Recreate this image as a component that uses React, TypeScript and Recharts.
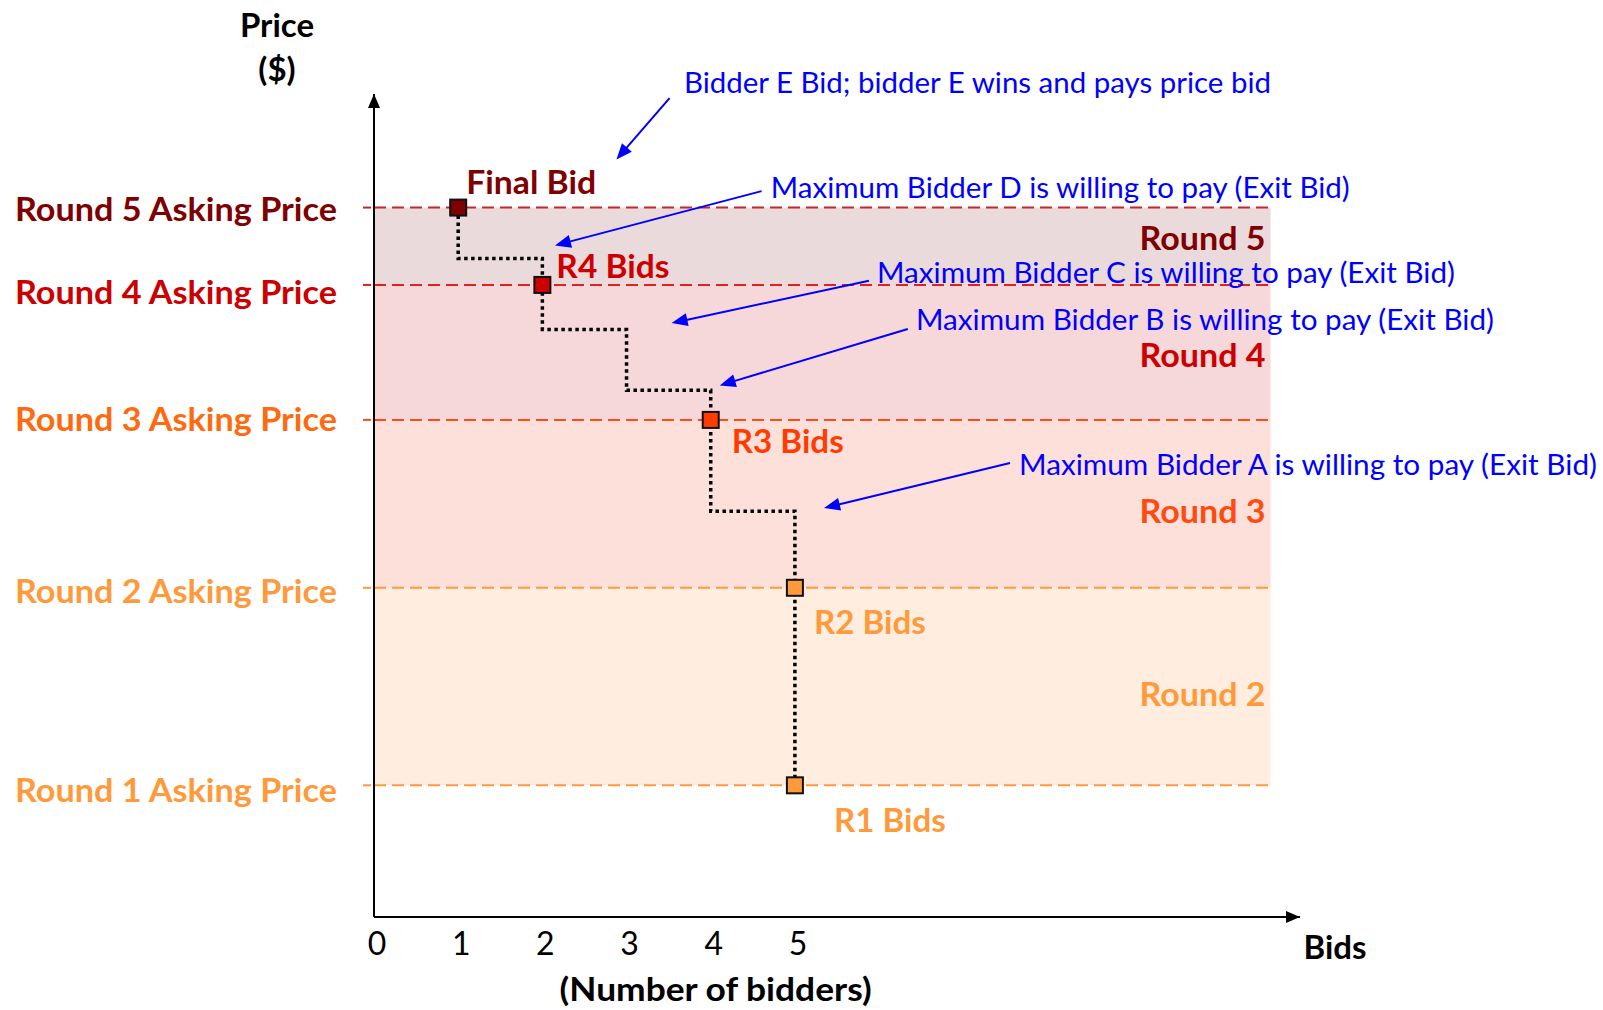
import React from "react";
import {
  ComposedChart,
  Line,
  Scatter,
  XAxis,
  YAxis,
  ReferenceLine,
  ReferenceArea,
} from "recharts";

// ---------------- DATA ----------------
const ROUND_NAMES = ["Round 1", "Round 2", "Round 3", "Round 4", "Round 5"];
const ASKING_PRICES = [16, 40, 60.4, 76.8, 86.2];
const BIDDERS_AT_ROUND = [5, 5, 4, 2, 1];
const BID_LABELS = ["R1 Bids", "R2 Bids", "R3 Bids", "R4 Bids", "Final Bid"];
const EXIT_BIDDERS = ["A", "B", "C", "D"];
const EXIT_PRICES = [49.3, 64, 71.4, 80];
const X_TICKS = [0, 1, 2, 3, 4, 5];
const NOTE_TEXTS = [
  "Bidder E Bid; bidder E wins and pays price bid",
  "Maximum Bidder D is willing to pay (Exit Bid)",
  "Maximum Bidder C is willing to pay (Exit Bid)",
  "Maximum Bidder B is willing to pay (Exit Bid)",
  "Maximum Bidder A is willing to pay (Exit Bid)",
];
// arrow tail / head in data units (bidders, price)
const NOTE_FROM = [
  [3.511, 99.5],
  [4.604, 88.2],
  [5.88, 77.3],
  [6.341, 71.45],
  [7.555, 55.16],
];
const NOTE_TO = [
  [2.88, 92.04],
  [2.15, 81.6],
  [3.535, 72.17],
  [4.107, 64.59],
  [5.346, 49.7],
];

// ---------------- DERIVED ----------------
type Ev = { price: number; kind: "ask" | "exit"; i: number };
const EVENTS: Ev[] = [
  ...ASKING_PRICES.map((p, i) => ({ price: p, kind: "ask" as const, i })),
  ...EXIT_PRICES.map((p, i) => ({ price: p, kind: "exit" as const, i })),
].sort((a, b) => a.price - b.price);

const STEP: { bidders: number; price: number }[] = [];
{
  let count = BIDDERS_AT_ROUND[0];
  for (const e of EVENTS) {
    if (e.kind === "ask") {
      count = BIDDERS_AT_ROUND[e.i];
      STEP.push({ bidders: count, price: e.price });
    } else {
      STEP.push({ bidders: count, price: e.price });
      count -= 1;
      STEP.push({ bidders: count, price: e.price });
    }
  }
}
const MARKERS = ASKING_PRICES.map((p, i) => ({
  bidders: BIDDERS_AT_ROUND[i],
  price: p,
  round: i,
}));

// ---------------- STYLE ----------------
const FONT = "Lato, 'Open Sans', sans-serif";
const X_MAX = 11;
const Y_MAX = 100;
const BAND_RIGHT = 10.65;
const BLUE = "#0000FF";
const ROUND_TEXT_COLORS = ["#FF9A3C", "#FF9A3C", "#FF6A10", "#CC0000", "#7F0000"];
const ROUND_LINE_COLORS = ["#FF9A3C", "#FF9A3C", "#FF4A1A", "#DD2222", "#C0282D"];
const ASK_LABEL_DY = [4, 2, -2, 6, 0];
const BAND_FILLS = ["", "#FFEEDF", "#FDE0DA", "#F6D8DA", "#EBDADB"];
const BAND_TEXT_COLORS = ["", "#FF9A3C", "#FF4A10", "#CC0000", "#7F0000"];
const BAND_LABEL_DY = [0, 6.5, 6.5, 2, -9];
const MARKER_FILLS = ["#FF9A3C", "#FF9A3C", "#FF3C00", "#CC0000", "#7F0000"];
const BID_LABEL_COLORS = ["#FF9A3C", "#FF9A3C", "#FF3C00", "#CC0000", "#7F0000"];
const BID_LABEL_OFFSETS = [
  [39, 34],
  [19, 33],
  [21, 20],
  [14, -20],
  [8, -27],
];
const BID_LABEL_WIDTHS = [112, 112, 112, 113, 130];
const NOTE_TEXT_OFFSETS = [
  [14.4, -16.2],
  [9.2, -5],
  [8, -9],
  [8.2, -10],
  [9, 0],
];
const NOTE_WIDTHS = [587, 579, 578, 578, 578];
const BOLD = 33;
const REG = 29;

// ---------------- PARTS ----------------
const YTick = (props: any) => {
  const { x, y, payload } = props;
  const i = ASKING_PRICES.indexOf(payload.value);
  if (i < 0) return null;
  return (
    <g>
      <line x1={x - 11} x2={x - 3} y1={y} y2={y} stroke={ROUND_LINE_COLORS[i]} strokeWidth={2} />
      <text
        x={x - 37}
        y={y + ASK_LABEL_DY[i]}
        textAnchor="end"
        dominantBaseline="central"
        fontFamily={FONT}
        fontWeight={700}
        fontSize={BOLD}
        fill={ROUND_TEXT_COLORS[i]}
        textLength={322}
        lengthAdjust="spacingAndGlyphs"
      >
        {`${ROUND_NAMES[i]} Asking Price`}
      </text>
    </g>
  );
};

const XTick = (props: any) => {
  const { x, y, payload } = props;
  return (
    <text
      x={x + 3}
      y={y + 25.5}
      textAnchor="middle"
      dominantBaseline="central"
      fontFamily={FONT}
      fontSize={32}
      fill="#000"
    >
      {payload.value}
    </text>
  );
};

const YLabel = (props: any) => {
  const vb = props.viewBox || { x: 0, y: 94, width: 374, height: 823 };
  const cx = vb.x + vb.width - 97;
  return (
    <g>
      <text x={cx} y={vb.y - 70.5} textAnchor="middle" dominantBaseline="central" fontFamily={FONT} fontWeight={700} fontSize={BOLD} fill="#000">
        Price
      </text>
      <text x={cx} y={vb.y - 26.5} textAnchor="middle" dominantBaseline="central" fontFamily={FONT} fontWeight={700} fontSize={BOLD} fill="#000">
        ($)
      </text>
    </g>
  );
};

const XLabel = (props: any) => {
  const vb = props.viewBox || { x: 374, y: 917, width: 926, height: 93 };
  return (
    <g>
      <text
        x={vb.x + 341.6}
        y={vb.y + 71}
        textAnchor="middle"
        dominantBaseline="central"
        fontFamily={FONT}
        fontWeight={700}
        fontSize={BOLD}
        fill="#000"
        textLength={312}
        lengthAdjust="spacingAndGlyphs"
      >
        (Number of bidders)
      </text>
      <text
        x={vb.x + vb.width + 3.5}
        y={vb.y + 29}
        textAnchor="start"
        dominantBaseline="central"
        fontFamily={FONT}
        fontWeight={700}
        fontSize={BOLD}
        fill="#000"
        textLength={63}
        lengthAdjust="spacingAndGlyphs"
      >
        Bids
      </text>
    </g>
  );
};

const arrowPath = (x1: number, y1: number, x2: number, y2: number, color: string, hl: number, hw: number, sw: number) => {
  const dx = x2 - x1;
  const dy = y2 - y1;
  const len = Math.hypot(dx, dy) || 1;
  const ux = dx / len;
  const uy = dy / len;
  const bx = x2 - ux * hl;
  const by = y2 - uy * hl;
  return (
    <g>
      <line x1={x1} y1={y1} x2={bx + ux * 1} y2={by + uy * 1} stroke={color} strokeWidth={sw} />
      <polygon
        points={`${x2},${y2} ${bx - uy * hw},${by + ux * hw} ${bx + uy * hw},${by - ux * hw}`}
        fill={color}
      />
    </g>
  );
};

const makeNoteShape = (k: number) => (props: any) => {
  const { x1, y1, x2, y2 } = props;
  return (
    <g>
      {arrowPath(x1, y1, x2, y2, BLUE, 16, 6.5, 2)}
      <text
        x={x1 + NOTE_TEXT_OFFSETS[k][0]}
        y={y1 + NOTE_TEXT_OFFSETS[k][1]}
        textAnchor="start"
        dominantBaseline="central"
        fontFamily={FONT}
        fontSize={REG}
        fill={BLUE}
        textLength={NOTE_WIDTHS[k]}
        lengthAdjust="spacingAndGlyphs"
      >
        {NOTE_TEXTS[k]}
      </text>
    </g>
  );
};

const axisArrowShape = (props: any) => {
  const { x1, y1, x2, y2 } = props;
  return arrowPath(x1, y1, x2, y2, "#000", 14, 6, 2);
};

const MarkerShape = (props: any) => {
  const { cx, cy, payload } = props;
  const r = payload.round;
  const s = 16;
  return (
    <g>
      <rect x={cx - s / 2} y={cy - s / 2} width={s} height={s} fill={MARKER_FILLS[r]} stroke="#111" strokeWidth={2} />
      <text
        x={cx + BID_LABEL_OFFSETS[r][0]}
        y={cy + BID_LABEL_OFFSETS[r][1]}
        textAnchor="start"
        dominantBaseline="central"
        fontFamily={FONT}
        fontWeight={700}
        fontSize={BOLD}
        fill={BID_LABEL_COLORS[r]}
        textLength={BID_LABEL_WIDTHS[r]}
        lengthAdjust="spacingAndGlyphs"
      >
        {BID_LABELS[r]}
      </text>
    </g>
  );
};

const bandLabel = (i: number) => (props: any) => {
  const vb = props.viewBox;
  if (!vb) return null;
  return (
    <text
      x={vb.x + vb.width - 5}
      y={vb.y + vb.height / 2 + BAND_LABEL_DY[i]}
      textAnchor="end"
      dominantBaseline="central"
      fontFamily={FONT}
      fontWeight={700}
      fontSize={BOLD}
      fill={BAND_TEXT_COLORS[i]}
      textLength={126}
      lengthAdjust="spacingAndGlyphs"
    >
      {ROUND_NAMES[i]}
    </text>
  );
};

export default function App() {
  return (
    <div style={{ position: "absolute", left: 0, top: 0, width: 1603, height: 1010, background: "#fff" }}>
      <ComposedChart
        width={1603}
        height={1010}
        margin={{ top: 94, right: 303, bottom: 0, left: 0 }}
      >
        <XAxis
          dataKey="bidders"
          type="number"
          domain={[0, X_MAX]}
          ticks={X_TICKS}
          interval={0}
          height={93}
          tickSize={0}
          tickMargin={0}
          tickLine={false}
          axisLine={{ stroke: "#000", strokeWidth: 2 }}
          tick={<XTick />}
          label={XLabel}
          allowDataOverflow
        />
        <YAxis
          dataKey="price"
          type="number"
          domain={[0, Y_MAX]}
          ticks={ASKING_PRICES}
          interval={0}
          width={374}
          tickSize={0}
          tickMargin={0}
          tickLine={false}
          axisLine={{ stroke: "#000", strokeWidth: 2 }}
          tick={<YTick />}
          label={YLabel}
          allowDataOverflow
        />

        {ASKING_PRICES.slice(1).map((p, k) => {
          const i = k + 1;
          return (
            <ReferenceArea
              key={`band-${i}`}
              x1={0}
              x2={BAND_RIGHT}
              y1={ASKING_PRICES[i - 1]}
              y2={p}
              fill={BAND_FILLS[i]}
              fillOpacity={1}
              stroke="none"
              ifOverflow="visible"
              label={bandLabel(i)}
            />
          );
        })}

        {ASKING_PRICES.map((p, i) => (
          <ReferenceLine
            key={`ask-${i}`}
            segment={[
              { x: 0, y: p },
              { x: BAND_RIGHT, y: p },
            ]}
            stroke={ROUND_LINE_COLORS[i]}
            strokeWidth={2}
            strokeDasharray="12 6"
            ifOverflow="visible"
          />
        ))}

        <ReferenceLine
          segment={[
            { x: 0, y: 0 },
            { x: 0, y: Y_MAX },
          ]}
          ifOverflow="visible"
          shape={axisArrowShape}
        />
        <ReferenceLine
          segment={[
            { x: 0, y: 0 },
            { x: X_MAX, y: 0 },
          ]}
          ifOverflow="visible"
          shape={axisArrowShape}
        />

        <Line
          data={STEP}
          dataKey="price"
          type="linear"
          stroke="#000"
          strokeWidth={3.5}
          strokeDasharray="3.5 3.5"
          dot={false}
          activeDot={false}
          isAnimationActive={false}
          legendType="none"
        />
        <Scatter
          data={MARKERS}
          dataKey="price"
          shape={<MarkerShape />}
          isAnimationActive={false}
        />

        {NOTE_TEXTS.map((t, k) => (
          <ReferenceLine
            key={`note-${k}`}
            segment={[
              { x: NOTE_FROM[k][0], y: NOTE_FROM[k][1] },
              { x: NOTE_TO[k][0], y: NOTE_TO[k][1] },
            ]}
            ifOverflow="visible"
            shape={makeNoteShape(k)}
          />
        ))}
      </ComposedChart>
    </div>
  );
}
